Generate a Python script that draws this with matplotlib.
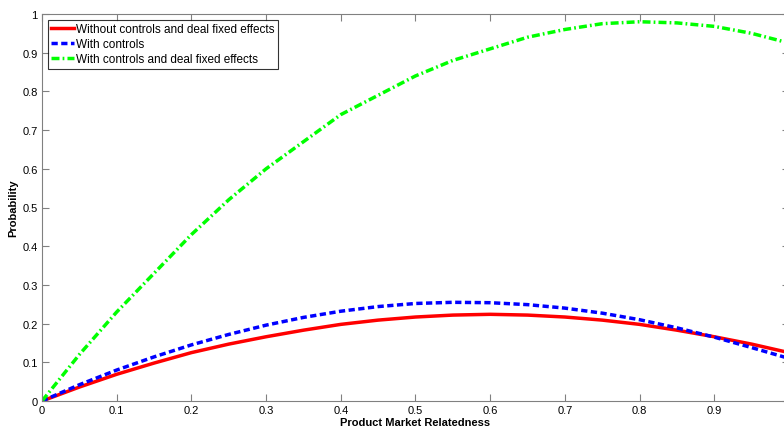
import numpy as np
import matplotlib.pyplot as plt

plt.rcParams['font.family'] = ['Liberation Sans', 'DejaVu Sans']

x = [0.0, 0.05, 0.1, 0.15, 0.2, 0.25, 0.3, 0.35, 0.4, 0.45, 0.5,
     0.55, 0.6, 0.65, 0.7, 0.75, 0.8, 0.85, 0.9, 0.95, 1.0]
no_controls = [0.0, 0.036, 0.069, 0.098, 0.125, 0.147, 0.166, 0.183, 0.198, 0.209, 0.217,
               0.222, 0.224, 0.222, 0.217, 0.209, 0.198, 0.183, 0.166, 0.147, 0.125]
with_controls = [0.0, 0.042, 0.080, 0.114, 0.145, 0.172, 0.196, 0.216, 0.232, 0.244, 0.252,
                 0.255, 0.254, 0.249, 0.240, 0.227, 0.210, 0.189, 0.165, 0.138, 0.110]
with_fe = [0.0, 0.120, 0.230, 0.330, 0.430, 0.520, 0.600, 0.670, 0.740, 0.790, 0.840,
           0.880, 0.910, 0.940, 0.960, 0.975, 0.980, 0.977, 0.968, 0.950, 0.925]

fig = plt.figure(figsize=(7.84, 4.27), dpi=100)
ax = fig.add_axes([42 / 784, 1 - 402 / 427, 747 / 784, 387 / 427])

ax.plot(x, no_controls, color='#ff0000', lw=2.5, label='Without controls and deal fixed effects')
ax.plot(x, with_controls, color='#0000ff', lw=2.5, ls=(0, (1.8, 1.0)), label='With controls')
ax.plot(x, with_fe, color='#00ff00', lw=2.5, ls=(0, (2.3, 0.9, 0.5, 0.9)),
        label='With controls and deal fixed effects')

ax.set_xlim(0, 1)
ax.set_ylim(0, 1)
ax.set_xticks(np.arange(0, 1.0, 0.1))
ax.set_xticklabels(['0', '0.1', '0.2', '0.3', '0.4', '0.5', '0.6', '0.7', '0.8', '0.9'])
ax.set_yticks(np.arange(0, 1.01, 0.1))
ax.set_yticklabels(['0', '0.1', '0.2', '0.3', '0.4', '0.5', '0.6', '0.7', '0.8', '0.9', '1'])
ax.tick_params(direction='in', top=True, right=True, labelsize=8, length=5,
               color='#808080', pad=3)
for s in ax.spines.values():
    s.set_color('#808080')

ax.set_xlabel('Product Market Relatedness', fontsize=8, fontweight='bold', labelpad=1)
ax.set_ylabel('Probability', fontsize=8, fontweight='bold', labelpad=3)

leg = ax.legend(loc='upper left', fontsize=8.5, fancybox=False, edgecolor='black',
                handlelength=1.9, handletextpad=0.15, borderpad=0.3, labelspacing=0.25,
                borderaxespad=0.5)
leg.get_frame().set_linewidth(0.8)

fig.savefig('out.png', dpi=100)
